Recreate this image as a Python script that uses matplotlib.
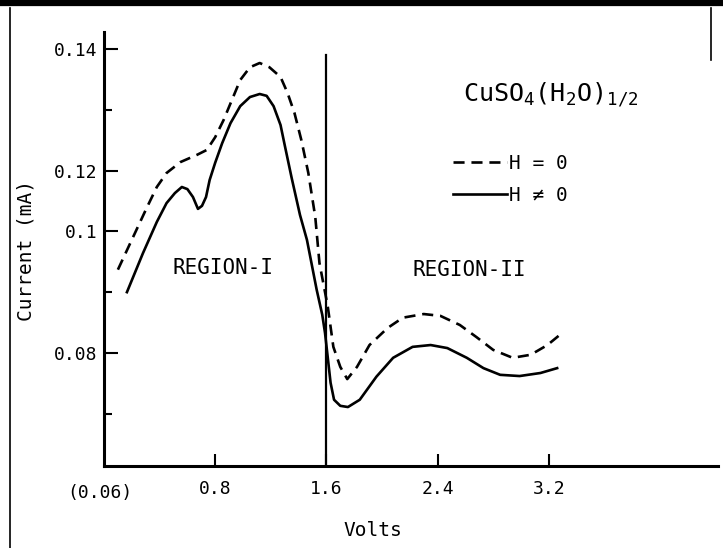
import matplotlib
matplotlib.use("Agg")
import matplotlib.pyplot as plt
from matplotlib.lines import Line2D
import numpy as np

# Values: volts vs current (mA)
volts_h0 = [0.10, 0.21, 0.31, 0.38, 0.45, 0.55, 0.67, 0.74, 0.80, 0.86, 0.92,
            0.98, 1.05, 1.12, 1.19, 1.27, 1.32, 1.37, 1.42, 1.47, 1.52, 1.55,
            1.61, 1.65, 1.70, 1.75, 1.82, 1.91, 2.04, 2.15, 2.30, 2.42, 2.56,
            2.68, 2.80, 2.94, 3.07, 3.19, 3.27]
current_h0 = [0.0937, 0.0991, 0.1080, 0.1146, 0.1192, 0.1214, 0.1226, 0.1234,
              0.1255, 0.1283, 0.1316, 0.1349, 0.1370, 0.1377, 0.1370, 0.1354,
              0.1328, 0.1295, 0.1250, 0.1192, 0.1047, 0.0948, 0.0876, 0.0810,
              0.0777, 0.0757, 0.0777, 0.0813, 0.0841, 0.0858, 0.0864, 0.0861,
              0.0846, 0.0826, 0.0805, 0.0792, 0.0797, 0.0813, 0.0828]

volts_h = [0.165, 0.28, 0.38, 0.45, 0.51, 0.56, 0.60, 0.64, 0.676, 0.705, 0.734,
           0.76, 0.80, 0.85, 0.91, 0.98, 1.05, 1.12, 1.17, 1.22, 1.27, 1.30,
           1.35, 1.41, 1.46, 1.53, 1.57, 1.59, 1.63, 1.655, 1.70, 1.755, 1.84,
           1.96, 2.08, 2.22, 2.35, 2.47, 2.61, 2.73, 2.85, 2.99, 3.14, 3.26]
current_h = [0.0900, 0.0964, 0.1031, 0.1093, 0.1126, 0.1146, 0.1139, 0.1113,
             0.1074, 0.1084, 0.1113, 0.1169, 0.1213, 0.1245, 0.1278, 0.1306,
             0.1321, 0.1326, 0.1323, 0.1306, 0.1275, 0.1242, 0.1176, 0.1054,
             0.0986, 0.0904, 0.0863, 0.0833, 0.0751, 0.0723, 0.0713, 0.0711,
             0.0723, 0.0761, 0.0792, 0.0810, 0.0813, 0.0808, 0.0792, 0.0775,
             0.0764, 0.0762, 0.0767, 0.0775]

y_major = [0.14, 0.12, 0.10, 0.08]
y_major_labels = ["0.14", "0.12", "0.1", "0.08"]
y_minor = [0.13, 0.09, 0.07]
x_ticks = [0.8, 1.6, 2.4, 3.2]
x_tick_labels = ["0.8", "1.6", "2.4", "3.2"]
region_boundary = 1.6
origin_current = 0.06

# the hand-drawn current axis is not linear: 0.12 -> 0.1 spans one tick step
_VAL = np.array([0.0, 0.07, 0.08, 0.09, 0.10, 0.12, 0.13, 0.14, 0.30])
_POS = np.array([-7.0, 0, 1, 2, 3, 4, 5, 6, 22])


def fwd(v):
    return np.interp(v, _VAL, _POS)


def inv(p):
    return np.interp(p, _POS, _VAL)


plt.rcParams.update({
    "font.family": "DejaVu Sans Mono",
    "mathtext.fontset": "custom",
    "mathtext.rm": "DejaVu Sans Mono",
    "mathtext.it": "DejaVu Sans Mono",
    "mathtext.bf": "DejaVu Sans Mono",
})

W, H = 723, 548
fig = plt.figure(figsize=(W / 100, H / 100), dpi=100)
ax = fig.add_axes([104 / W, 1 - 466 / H, 614 / W, 434 / H])
ax.set_yscale("function", functions=(fwd, inv))

ls_dash = (0, (4.2, 2.6))
l0, = ax.plot(volts_h0, current_h0, color="black", lw=1.9, ls=ls_dash)
l1, = ax.plot(volts_h, current_h, color="black", lw=1.9)

ymin, ymax = 0.0614, 0.1428
ax.set_xlim(0, 614 / 139)
ax.set_ylim(ymin, ymax)
ax.plot([region_boundary, region_boundary], [ymin, 0.139], color="black", lw=1.6)

ax.set_yticks(y_major)
ax.set_yticklabels(y_major_labels)
ax.set_yticks(y_minor, minor=True)
ax.set_xticks(x_ticks)
ax.set_xticklabels(x_tick_labels)
ax.tick_params(axis="y", which="major", direction="in", length=10, width=1.5,
               pad=5, labelsize=13)
ax.tick_params(axis="y", which="minor", direction="in", length=6, width=1.5)
ax.tick_params(axis="x", direction="in", length=9, width=1.5, pad=10, labelsize=13)

for s in ["top", "right"]:
    ax.spines[s].set_visible(False)
for s in ["left", "bottom"]:
    ax.spines[s].set_linewidth(2.2)

ax.annotate("(0.06)", xy=(0, ymin), xytext=(-3, -13), textcoords="offset points",
            ha="center", va="top", fontsize=13, annotation_clip=False)

ax.set_xlabel("Volts", fontsize=14)
ax.xaxis.set_label_coords((373 - 104) / 614, (466 - 521) / 434)
fig.text(26 / W, 1 - 250 / H, "Current (mA)", rotation=90, ha="center",
         va="center", fontsize=14)

ax.text(0.856, 0.094, "REGION-I", ha="center", va="center", fontsize=15)
ax.text(2.626, 0.0937, "REGION-II", ha="center", va="center", fontsize=15)

fig.text(463 / W, 1 - 95 / H, r"CuSO$_4$(H$_2$O)$_{1/2}$", ha="left",
         va="center", fontsize=18)
ax.legend([l0, l1], ["H = 0", "H \u2260 0"], loc="upper left",
          bbox_to_anchor=(453 / W, 1 - 154 / H), bbox_transform=fig.transFigure,
          frameon=False, fontsize=14, handlelength=2.8, handletextpad=0.1,
          borderpad=0, borderaxespad=0, labelspacing=0.65)

# scan frame
fig.add_artist(Line2D([0, 1], [1 - 3 / H, 1 - 3 / H], color="black", lw=4.5,
                      transform=fig.transFigure))
fig.add_artist(Line2D([10 / W, 10 / W], [0, 1 - 8 / H], color="black", lw=1.2,
                      transform=fig.transFigure))
fig.add_artist(Line2D([711 / W, 711 / W], [1 - 60 / H, 1 - 8 / H], color="black",
                      lw=1.2, transform=fig.transFigure))

fig.savefig("out.png", dpi=100, facecolor="white")
